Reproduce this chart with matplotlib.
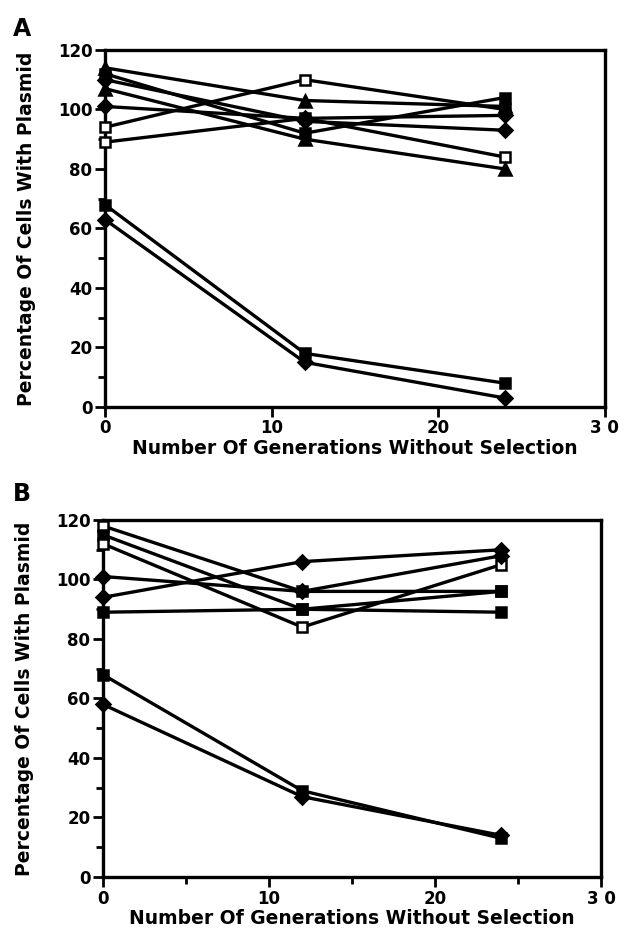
import matplotlib
matplotlib.use("Agg")
import matplotlib.pyplot as plt
from matplotlib.ticker import MultipleLocator

plt.rcParams["font.family"] = ["DejaVu Sans"]
plt.rcParams["font.weight"] = "bold"

generations = [0, 12, 24]

# panel A: (values, marker, filled)
a_series = [
    ([94, 110, 100], "s", False),
    ([89, 97, 84], "s", False),
    ([114, 103, 101], "^", True),
    ([110, 96, 93], "D", True),
    ([112, 92, 104], "s", True),
    ([107, 90, 80], "^", True),
    ([101, 97, 98], "D", True),
    ([68, 18, 8], "s", True),
    ([63, 15, 3], "D", True),
]

# panel B
b_series = [
    ([118, 96, 96], "s", False),
    ([115, 90, 89], "s", True),
    ([112, 84, 105], "s", False),
    ([101, 96, 108], "D", True),
    ([94, 106, 110], "D", True),
    ([89, 90, 96], "s", True),
    ([68, 29, 13], "s", True),
    ([58, 27, 14], "D", True),
]

y_ticks = [0, 20, 40, 60, 80, 100, 120]
x_ticks = [0, 10, 20, 30]
x_ticklabels = ["0", "10", "20", "3 0"]
xlabel = "Number Of Generations Without Selection"
ylabel = "Percentage Of Cells With Plasmid"

fig = plt.figure(figsize=(6.28, 9.42), dpi=100)
axA = fig.add_axes([0.167, 0.568, 0.796, 0.379])
axB = fig.add_axes([0.164, 0.069, 0.793, 0.379])


def draw(ax, series, x_minor):
    for vals, m, filled in series:
        ms = 7 if m != "^" else 8
        ax.plot(generations, vals, color="black", lw=2.4, marker=m, ms=ms,
                mfc="black" if filled else "white", mec="black", mew=1.8,
                clip_on=False, zorder=3)
    ax.set_xlim(0, 30)
    ax.set_ylim(0, 120)
    ax.set_yticks(y_ticks)
    ax.yaxis.set_minor_locator(MultipleLocator(10))
    ax.set_xticks(x_ticks)
    ax.set_xticklabels(x_ticklabels)
    if x_minor:
        ax.xaxis.set_minor_locator(MultipleLocator(5))
    for s in ax.spines.values():
        s.set_linewidth(2.4)
    ax.tick_params(which="both", direction="out", width=2, labelsize=12,
                   pad=2)
    ax.tick_params(which="major", length=7)
    ax.tick_params(which="minor", length=5)
    ax.set_xlabel(xlabel, fontsize=13.5, fontweight="bold", labelpad=1)
    ax.set_ylabel(ylabel, fontsize=13.5, fontweight="bold", labelpad=16)


draw(axA, a_series, False)
draw(axB, b_series, True)

fig.text(0.02, 0.962, "A", fontsize=17, fontweight="bold")
fig.text(0.02, 0.468, "B", fontsize=17, fontweight="bold")

fig.savefig("out.png", dpi=100)
